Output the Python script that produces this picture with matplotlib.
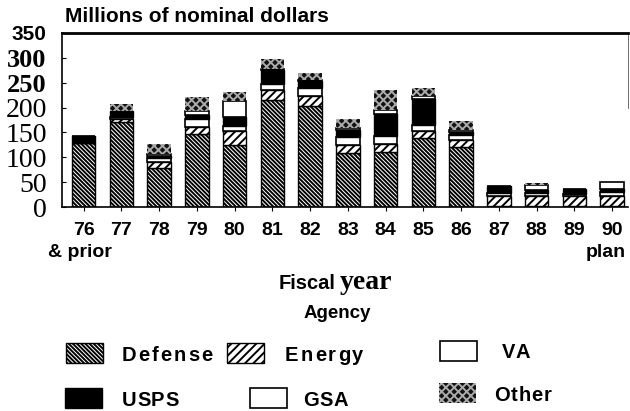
import matplotlib
matplotlib.use('Agg')
import matplotlib.pyplot as plt
from matplotlib.patches import Rectangle
import numpy as np

# fiscal years and spending by agency (millions of nominal dollars)
years = ['76', '77', '78', '79', '80', '81', '82', '83', '84', '85', '86', '87', '88', '89', '90']
defense = [128, 170, 78, 146, 124, 216, 203, 108, 111, 138, 120, 3, 3, 3, 3]
energy = [0, 8, 12, 14, 28, 20, 20, 16, 16, 14, 14, 19, 20, 19, 19]
va = [0, 4, 8, 18, 10, 12, 16, 16, 16, 12, 10, 6, 5, 4, 9]
usps = [14, 12, 5, 7, 20, 28, 14, 14, 44, 54, 6, 14, 6, 10, 5]
gsa = [0, 0, 4, 9, 32, 2, 2, 4, 8, 6, 4, 0, 10, 0, 14]
other = [0, 13, 20, 27, 18, 20, 14, 20, 40, 15, 18, 0, 5, 0, 0]

agencies = ['Defense', 'Energy', 'VA', 'USPS', 'GSA', 'Other']
series = [defense, energy, va, usps, gsa, other]
yticks = [0, 50, 100, 150, 200, 250, 300, 350]

styles = {
    'Defense': dict(facecolor='white', edgecolor='black', hatch='\\' * 8, linewidth=1),
    'Energy': dict(facecolor='white', edgecolor='black', hatch='////', linewidth=1),
    'VA': dict(facecolor='white', edgecolor='black', linewidth=1.2),
    'USPS': dict(facecolor='black', edgecolor='black', linewidth=1),
    'GSA': dict(facecolor='white', edgecolor='black', linewidth=1.2),
    'Other': dict(facecolor='#111111', edgecolor='#aaaaaa', hatch='xxxx', linewidth=0),
}

SANS = ['Liberation Sans', 'DejaVu Sans']
plt.rcParams['hatch.linewidth'] = 1.4
W, H = 630, 411
fig = plt.figure(figsize=(W / 100, H / 100), dpi=100)
ax = fig.add_axes([62 / W, 1 - 207 / H, (628 - 62) / W, (207 - 33) / H])

x = np.arange(len(years))
bottom = np.zeros(len(years))
for name, vals in zip(agencies, series):
    ax.bar(x, vals, width=0.62, bottom=bottom, **styles[name])
    bottom += np.array(vals)

ax.set_xlim(-0.57, 14.42)
ax.set_ylim(0, 350)

# axes frame
ax.spines['top'].set_linewidth(2)
ax.spines['left'].set_linewidth(1.2)
ax.spines['bottom'].set_linewidth(1.2)
ax.spines['right'].set_linewidth(0.6)
ax.spines['right'].set_color('#555555')
ax.spines['right'].set_bounds(200, 350)

ax.set_xticks(x)
ax.set_xticklabels(years, fontsize=14, fontweight='bold', fontfamily=SANS)
ax.tick_params(axis='x', direction='out', length=3, width=0.8, pad=8)

ax.set_yticks(yticks)
ax.set_yticklabels([str(v) for v in yticks], fontsize=20, fontfamily='Liberation Serif')
ax.tick_params(axis='y', direction='in', length=3, width=0.8, pad=11)
for lab in ax.get_yticklabels():
    if lab.get_text() in ('250', '300'):
        lab.set_fontweight('bold')
        lab.set_fontsize(19)
    if lab.get_text() == '350':
        lab.set_fontfamily(SANS)
        lab.set_fontweight('bold')
        lab.set_fontsize(15)


def fx(px):
    return px / W


def fy(py):
    return 1 - py / H


renderer = fig.canvas.get_renderer()


def tracked_text(px, py, s, track, **kw):
    # draw one letter at a time so the letters can be spread out
    for ch in s:
        t = fig.text(fx(px), fy(py), ch, ha='left', va='center', **kw)
        px += t.get_window_extent(renderer).width + track


fig.text(fx(65), fy(17), 'Millions of nominal dollars', fontsize=15, fontweight='bold',
         fontfamily=SANS, ha='left', va='center')
fig.text(fx(48), fy(252), '& prior', fontsize=14, fontweight='bold',
         fontfamily=SANS, ha='left', va='center')
fig.text(fx(626), fy(252), 'plan', fontsize=14, fontweight='bold',
         fontfamily=SANS, ha='right', va='center')

fig.text(fx(336), fy(289), 'Fiscal', fontsize=14.5, fontweight='bold',
         fontfamily=SANS, ha='right', va='baseline')
fig.text(fx(340), fy(289), 'year', fontsize=20, fontweight='bold',
         fontfamily='Liberation Serif', ha='left', va='baseline')
fig.text(fx(337), fy(313), 'Agency', fontsize=13.5, fontweight='bold',
         fontfamily=SANS, ha='center', va='center')

# legend, laid out as in the original figure
leg_patch_x = [66, 227, 440, 65, 250, 439]
leg_text_x = [122, 285, 502, 122, 303, 494]
leg_y = [353, 353, 351, 398, 398, 393]
leg_track = [2.0, 2.0, 0, 0.5, 0.5, 1.0]
for name, px, tx, py, tr in zip(agencies, leg_patch_x, leg_text_x, leg_y, leg_track):
    rect = Rectangle((fx(px), fy(py + 10)), 37 / W, 20 / H, transform=fig.transFigure,
                     **styles[name])
    fig.add_artist(rect)
    tracked_text(tx, py + 2, name, tr, fontsize=14.5, fontweight='bold', fontfamily=SANS)

fig.savefig('out.png', dpi=100)
